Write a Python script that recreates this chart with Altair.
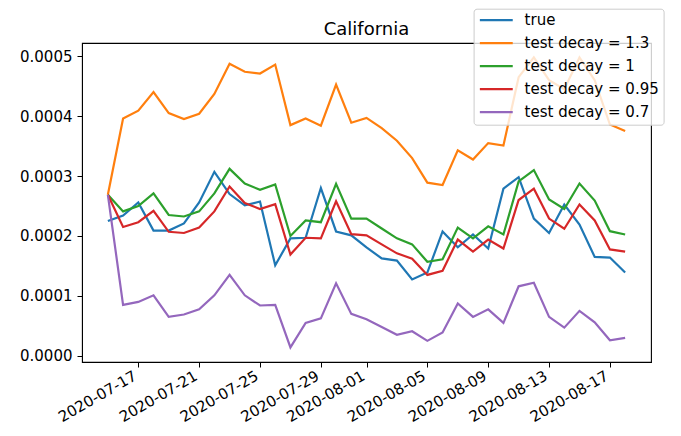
import altair as alt
import pandas as pd

dates = [d.strftime("%Y-%m-%d") for d in pd.date_range("2020-07-15", periods=35)]

series_names = ["true", "test decay = 1.3", "test decay = 1", "test decay = 0.95", "test decay = 0.7"]
colors = ["#1f77b4", "#ff7f0e", "#2ca02c", "#d62728", "#9467bd"]

# values in units of 1e-4
true_vals = [2.25, 2.34, 2.56, 2.09, 2.09, 2.21, 2.56, 3.07, 2.70, 2.51, 2.575, 1.51,
             1.96, 1.97, 2.80, 2.075, 2.01, 1.81, 1.625, 1.59, 1.275, 1.39, 2.075, 1.81,
             2.025, 1.79, 2.79, 2.98, 2.29, 2.05, 2.525, 2.19, 1.65, 1.64, 1.39]
decay_13 = [2.687, 3.96, 4.09, 4.40, 4.05, 3.95, 4.04, 4.37, 4.875, 4.74, 4.71, 4.86,
            3.85, 3.96, 3.84, 4.525, 3.89, 3.97, 3.80, 3.59, 3.30, 2.89, 2.85, 3.43,
            3.275, 3.55, 3.51, 4.65, 4.98, 4.6, 4.45, 4.98, 4.6, 3.86, 3.75]
decay_1 = [2.687, 2.41, 2.50, 2.71, 2.35, 2.325, 2.41, 2.71, 3.12, 2.875, 2.77, 2.86,
           2.00, 2.26, 2.23, 2.87, 2.29, 2.29, 2.125, 1.96, 1.86, 1.57, 1.61, 2.14,
           1.96, 2.16, 2.025, 2.91, 3.10, 2.61, 2.45, 2.875, 2.59, 2.08, 2.025]
decay_095 = [2.687, 2.15, 2.23, 2.42, 2.07, 2.05, 2.14, 2.41, 2.825, 2.55, 2.45, 2.53,
             1.69, 1.97, 1.96, 2.58, 2.03, 2.01, 1.86, 1.71, 1.62, 1.35, 1.42, 1.94,
             1.74, 1.94, 1.79, 2.60, 2.79, 2.29, 2.12, 2.525, 2.26, 1.775, 1.74]
decay_07 = [2.687, 0.85, 0.90, 1.01, 0.65, 0.69, 0.775, 1.01, 1.35, 1.01, 0.84, 0.85,
            0.14, 0.55, 0.625, 1.21, 0.70, 0.61, 0.48, 0.35, 0.41, 0.25, 0.39, 0.875,
            0.65, 0.775, 0.55, 1.16, 1.22, 0.65, 0.47, 0.75, 0.56, 0.26, 0.30]

y_ticks = [0.0, 0.0001, 0.0002, 0.0003, 0.0004, 0.0005]
x_tick_dates = [(7, 17), (7, 21), (7, 25), (7, 29), (8, 1), (8, 5), (8, 9), (8, 13), (8, 17)]

rows = []
for name, vals in zip(series_names, [true_vals, decay_13, decay_1, decay_095, decay_07]):
    for d, v in zip(dates, vals):
        rows.append({"date": d, "value": v * 1e-4, "series": name})
df = pd.DataFrame(rows)

FONT = "DejaVu Sans"

x_axis = alt.Axis(
    values=[alt.DateTime(year=2020, month=m, date=d, utc=True) for m, d in x_tick_dates],
    format="%Y-%m-%d", labelAngle=330, labelAlign="right", labelBaseline="alphabetic",
    title=None, grid=False, tickSize=5, labelPadding=11.5, labelOffset=-1,
    labelFontSize=15, labelFont=FONT, labelColor="black", domainColor="black",
    tickColor="black", labelOverlap=False, labelFlush=False,
)
y_axis = alt.Axis(
    values=y_ticks, format=".4f", title=None, grid=False, tickSize=5, labelPadding=5,
    labelFontSize=15, labelFont=FONT, labelColor="black", domainColor="black",
    tickColor="black", labelOverlap=False, labelFlush=False,
)

chart = alt.Chart(df).mark_line(strokeWidth=2.2, clip=True).encode(
    x=alt.X("date:T", axis=x_axis, scale=alt.Scale(
        type="utc", nice=False,
        domain=[alt.DateTime(year=2020, month=7, date=13, hours=7, minutes=12, utc=True),
                alt.DateTime(year=2020, month=8, date=19, hours=16, minutes=48, utc=True)])),
    y=alt.Y("value:Q", axis=y_axis,
            scale=alt.Scale(domain=[-0.0000103, 0.000522], nice=False, zero=False)),
    color=alt.Color("series:N", sort=series_names,
                    scale=alt.Scale(domain=series_names, range=colors),
                    legend=alt.Legend(
                        title=None, orient="none", legendX=391.6, legendY=-34.3,
                        symbolType="M-2.6,0H2.6", symbolStrokeWidth=2.2, symbolSize=160,
                        symbolOffset=11.2, symbolFillColor="transparent",
                        labelFontSize=15, labelFont=FONT, labelColor="black",
                        labelOffset=20.8, labelLimit=300, padding=4, rowPadding=7,
                        fillColor="rgba(255,255,255,0.8)", strokeColor="#cccccc",
                        cornerRadius=3)),
).properties(
    width=569, height=319,
    title=alt.Title("California", fontSize=18, font=FONT, fontWeight="normal",
                    color="black", offset=0, baseline="alphabetic", dy=44.4,
                    frame="group"),
    padding={"left": 74, "top": 35, "right": 22, "bottom": 66},
    autosize=alt.AutoSizeParams(type="none"),
).configure_view(stroke="black", strokeWidth=1.1)

chart.save("out.html", embed_options={"renderer": "svg", "actions": False})
